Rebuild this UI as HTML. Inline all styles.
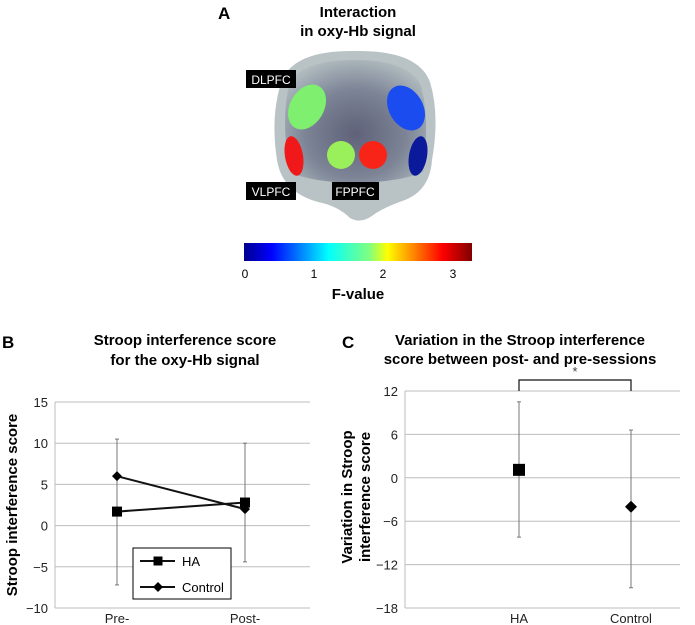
<!DOCTYPE html>
<html><head><meta charset="utf-8"><style>
body{margin:0;background:#fff;}
svg{display:block;font-family:"Liberation Sans",Arial,sans-serif;}
</style></head><body>
<svg id="s" width="695" height="625" viewBox="0 0 695 625" xmlns="http://www.w3.org/2000/svg">
<defs>
<linearGradient id="jet" x1="0" x2="1" y1="0" y2="0">
<stop offset="0" stop-color="#00008f"/><stop offset="0.12" stop-color="#0000ff"/>
<stop offset="0.37" stop-color="#00ffff"/><stop offset="0.55" stop-color="#80ff80"/>
<stop offset="0.63" stop-color="#ffff00"/><stop offset="0.87" stop-color="#ff0000"/>
<stop offset="1" stop-color="#800000"/></linearGradient>
<radialGradient id="head" cx="0.5" cy="0.6" r="0.65">
<stop offset="0" stop-color="#5f6178"/><stop offset="0.55" stop-color="#7c8496"/><stop offset="1" stop-color="#b4bfc2"/></radialGradient>
</defs>
<!-- Panel A -->
<text x="218" y="19" font-size="17" font-weight="bold">A</text>
<text x="358" y="17" font-size="15" font-weight="bold" text-anchor="middle">Interaction</text>
<text x="358" y="36" font-size="15" font-weight="bold" text-anchor="middle">in oxy-Hb signal</text>
<g>
<path d="M282,80 Q295,50 355,51 Q418,50 430,82 Q440,115 432,160 Q430,190 405,200 Q382,208 372,216 Q360,224 350,218 Q338,206 318,202 Q282,192 277,160 Q270,115 282,80 Z" fill="#b9c3c5"/>
<path d="M290,82 Q303,60 355,60 Q410,60 421,86 Q430,118 423,172 Q400,182 355,183 Q310,182 290,172 Q280,118 290,82 Z" fill="url(#head)"/>
<ellipse cx="307" cy="107" rx="17" ry="24" transform="rotate(30 307 107)" fill="#7fef70"/>
<ellipse cx="406" cy="108" rx="17" ry="24" transform="rotate(-30 406 108)" fill="#1a4cf0"/>
<ellipse cx="294" cy="156" rx="9" ry="20" transform="rotate(-10 294 156)" fill="#f01818"/>
<circle cx="341" cy="155" r="14" fill="#9af05a"/>
<circle cx="373" cy="155" r="14" fill="#f82418"/>
<ellipse cx="418" cy="156" rx="9" ry="20" transform="rotate(10 418 156)" fill="#0a1a9a"/>
</g>
<rect x="246" y="70" width="50" height="18" fill="#000"/>
<text x="271" y="84" font-size="12" fill="#fff" text-anchor="middle">DLPFC</text>
<rect x="246" y="182" width="50" height="18" fill="#000"/>
<text x="271" y="196" font-size="12" fill="#fff" text-anchor="middle">VLPFC</text>
<rect x="332" y="182" width="47" height="18" fill="#000"/>
<text x="355" y="196" font-size="12" fill="#fff" text-anchor="middle">FPPFC</text>
<rect x="244" y="243" width="228" height="18" fill="url(#jet)"/>
<g font-size="12" text-anchor="middle">
<text x="245" y="278">0</text>
<text x="314" y="278">1</text>
<text x="383" y="278">2</text>
<text x="453" y="278">3</text>
</g>
<text x="358" y="299" font-size="15" font-weight="bold" text-anchor="middle">F-value</text>

<!-- Panel B -->
<text x="2" y="348" font-size="17" font-weight="bold">B</text>
<text x="185" y="345" font-size="15" font-weight="bold" text-anchor="middle">Stroop interference score</text>
<text x="185" y="365" font-size="15" font-weight="bold" text-anchor="middle">for the oxy-Hb signal</text>
<text transform="translate(17,505) rotate(-90)" font-size="15" font-weight="bold" text-anchor="middle">Stroop interference score</text>
<g id="chartB"></g>

<!-- Panel C -->
<text x="342" y="348" font-size="17" font-weight="bold">C</text>
<text x="520" y="345" font-size="15" font-weight="bold" text-anchor="middle">Variation in the Stroop interference</text>
<text x="520" y="364" font-size="15" font-weight="bold" text-anchor="middle">score between post- and pre-sessions</text>
<text transform="translate(352,497) rotate(-90)" font-size="15" font-weight="bold" text-anchor="middle">Variation in Stroop</text>
<text transform="translate(370,497) rotate(-90)" font-size="15" font-weight="bold" text-anchor="middle">interference score</text>
<g id="chartC"></g>
</svg>
<script>
// Chart B data
const bCategories = ["Pre-", "Post-"];
const bTicks = [-10, -5, 0, 5, 10, 15];
const haValues = [1.7, 2.8];
const controlValues = [6, 2];
const bErrTop = [10.5, 10];
const bErrBottom = [-7.2, -4.4];
// Chart C data
const cCategories = ["HA", "Control"];
const cTicks = [-18, -12, -6, 0, 6, 12];
const cValues = [1.1, -4];
const cErrTop = [10.5, 6.6];
const cErrBottom = [-8.2, -15.2];

const NS = "http://www.w3.org/2000/svg";
function mk(parent, tag, attrs, text){
  const e = document.createElementNS(NS, tag);
  for (const k in attrs) e.setAttribute(k, attrs[k]);
  if (text !== undefined) e.textContent = text;
  parent.appendChild(e); return e;
}
function square(g, x, y, s){ return mk(g,"rect",{x:x-s/2,y:y-s/2,width:s,height:s,fill:"#000"}); }
function diamond(g, x, y, s){ return mk(g,"path",{d:`M${x},${y-s} L${x+s},${y} L${x},${y+s} L${x-s},${y} Z`,fill:"#000"}); }

// ---- Chart B ----
(function(){
  const g = document.getElementById("chartB");
  const x0=55, x1=310, yTop=402, yBot=608, vMin=-10, vMax=15;
  const ys = v => yBot - (v - vMin)/(vMax - vMin)*(yBot - yTop);
  const xs = i => [117,245][i];
  bTicks.forEach(t=>{
    const l = mk(g,"line",{x1:x0,x2:x1,y1:ys(t),y2:ys(t),stroke:"#bdbdbd","stroke-width":1});
    
    
    const tx = mk(g,"text",{x:x0-7,y:ys(t)+5,"font-size":13,"text-anchor":"end",fill:"#222"}, t<0?"\u2212"+(-t):String(t));
    
    
  });
  mk(g,"line",{x1:x0,x2:x0,y1:yTop,y2:yBot,stroke:"#bdbdbd"});
  bCategories.forEach((c,i)=>{
    const tx = mk(g,"text",{x:xs(i),y:623,"font-size":13,"text-anchor":"middle",fill:"#222"},c);
    
    
    const eb = mk(g,"line",{x1:xs(i),x2:xs(i),y1:ys(bErrTop[i]),y2:ys(bErrBottom[i]),stroke:"#777","stroke-width":1});
    
    
    mk(g,"line",{x1:xs(i)-2,x2:xs(i)+2,y1:ys(bErrTop[i]),y2:ys(bErrTop[i]),stroke:"#777"});
    mk(g,"line",{x1:xs(i)-2,x2:xs(i)+2,y1:ys(bErrBottom[i]),y2:ys(bErrBottom[i]),stroke:"#777"});
  });
  const lh = mk(g,"polyline",{points:haValues.map((v,i)=>xs(i)+","+ys(v)).join(" "),fill:"none",stroke:"#111","stroke-width":2});
  
  
  const lc = mk(g,"polyline",{points:controlValues.map((v,i)=>xs(i)+","+ys(v)).join(" "),fill:"none",stroke:"#111","stroke-width":2});
  
  
  haValues.forEach((v,i)=>{ const m=square(g,xs(i),ys(v),10);
    
     });
  controlValues.forEach((v,i)=>{ const m=diamond(g,xs(i),ys(v),5);
    
     });
  // legend
  const lg = mk(g,"g",{});
  
  
  mk(lg,"rect",{x:133,y:548,width:98,height:51,fill:"#fff",stroke:"#000","stroke-width":1});
  mk(lg,"line",{x1:140,x2:175,y1:561,y2:561,stroke:"#111","stroke-width":2});
  square(lg,158,561,9);
  mk(lg,"text",{x:182,y:566,"font-size":13},"HA");
  mk(lg,"line",{x1:140,x2:175,y1:587,y2:587,stroke:"#111","stroke-width":2});
  diamond(lg,158,587,5);
  mk(lg,"text",{x:182,y:592,"font-size":13},"Control");
})();

// ---- Chart C ----
(function(){
  const g = document.getElementById("chartC");
  const x0=405, x1=680, yTop=391, yBot=608, vMin=-18, vMax=12;
  const ys = v => yBot - (v - vMin)/(vMax - vMin)*(yBot - yTop);
  const xs = i => [519,631][i];
  cTicks.forEach(t=>{
    const l = mk(g,"line",{x1:x0,x2:x1,y1:ys(t),y2:ys(t),stroke:"#bdbdbd","stroke-width":1});
    
    
    const tx = mk(g,"text",{x:x0-7,y:ys(t)+5,"font-size":13,"text-anchor":"end",fill:"#222"}, t<0?"\u2212"+(-t):String(t));
    
    
  });
  mk(g,"line",{x1:x0,x2:x0,y1:yTop,y2:yBot,stroke:"#bdbdbd"});
  cCategories.forEach((c,i)=>{
    const tx = mk(g,"text",{x:xs(i),y:623,"font-size":13,"text-anchor":"middle",fill:"#222"},c);
    
    
    const eb = mk(g,"line",{x1:xs(i),x2:xs(i),y1:ys(cErrTop[i]),y2:ys(cErrBottom[i]),stroke:"#777"});
    
    
    mk(g,"line",{x1:xs(i)-2,x2:xs(i)+2,y1:ys(cErrTop[i]),y2:ys(cErrTop[i]),stroke:"#777"});
    mk(g,"line",{x1:xs(i)-2,x2:xs(i)+2,y1:ys(cErrBottom[i]),y2:ys(cErrBottom[i]),stroke:"#777"});
  });
  const m1 = square(g,xs(0),ys(cValues[0]),12);
  
  
  const m2 = diamond(g,xs(1),ys(cValues[1]),6);
  
  
  const br = mk(g,"path",{d:`M${xs(0)},391 V380 H${xs(1)} V391`,fill:"none",stroke:"#111","stroke-width":1.2});
  
  
  const st = mk(g,"text",{x:(xs(0)+xs(1))/2,y:376,"font-size":13,"text-anchor":"middle",fill:"#444"},"*");
  
  
})();
</script>
</body></html>
